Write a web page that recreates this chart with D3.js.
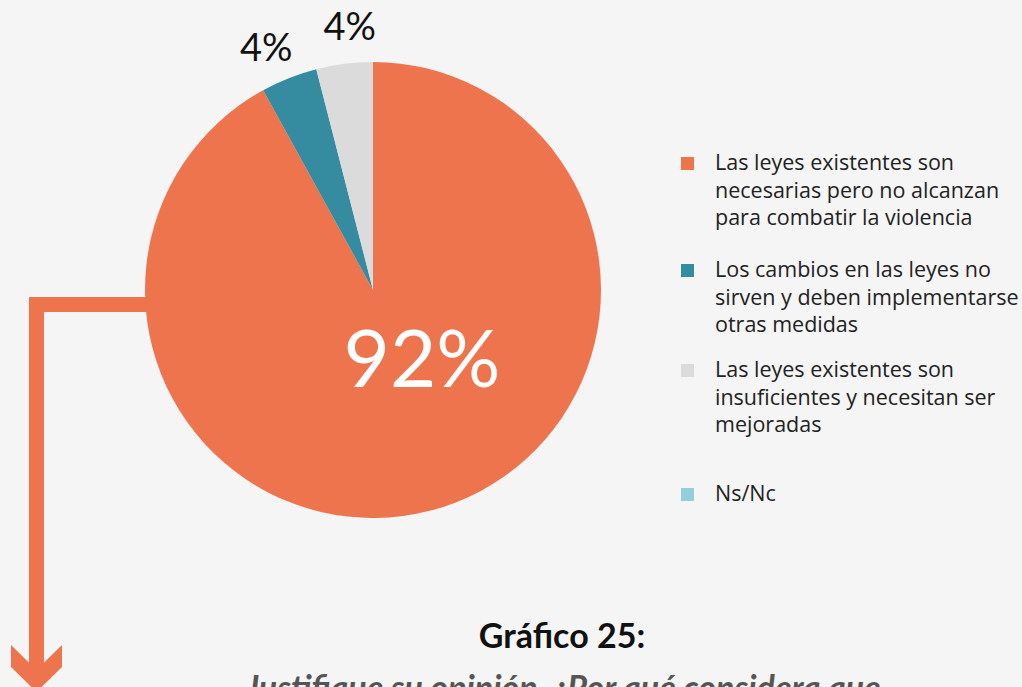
<!DOCTYPE html>
<html>
<head>
<meta charset="utf-8">
<script src="https://cdn.jsdelivr.net/npm/d3@7"></script>
<style>
  html, body { margin: 0; padding: 0; background: #f5f5f5; }
  svg { display: block; }
  text { font-family: Lato, "Open Sans", sans-serif; }
  .legend text { font-family: "Open Sans", Lato, sans-serif; }
</style>
</head>
<body>
<svg id="chart" width="1022" height="687"></svg>
<script>
// data
var categories = [
    ["Las leyes existentes son", "necesarias pero no alcanzan", "para combatir la violencia"],
    ["Los cambios en las leyes no", "sirven y deben implementarse", "otras medidas"],
    ["Las leyes existentes son", "insuficientes y necesitan ser", "mejoradas"],
    ["Ns/Nc"]
];
var values = [92, 4, 4, 0];
var labels = ["92%", "4%", "4%", ""];
var colors = ["#ee744e", "#358ba0", "#dbdbdb", "#93cedd"];
var title = "Gráfico 25:";
var subtitle = "Justifique su opinión. ¿Por qué considera que";

var svg = d3.select("#chart"),
    cx = 373, cy = 290, r = 228,
    orange = colors[0];

// arrow leaving the pie, drawn under it
var arrow = svg.append("g").attr("fill", orange);
arrow.append("rect").attr("x", 29).attr("y", 297).attr("width", 130).attr("height", 15);
arrow.append("rect").attr("x", 29).attr("y", 297).attr("width", 15).attr("height", 385);
arrow.append("path")
    .attr("d", d3.line()([[11, 645], [36.5, 670], [62, 645], [62, 667], [36.5, 692], [11, 667]]) + "Z");

// pie
var pie = d3.pie().sort(null).value(function(d) { return d; }),
    arc = d3.arc().innerRadius(0).outerRadius(r),
    arcs = pie(values);

var g = svg.append("g").attr("transform", "translate(" + cx + "," + cy + ")");

g.selectAll("path.slice")
    .data(arcs)
  .enter().append("path")
    .attr("class", "slice")
    .attr("d", arc)
    .attr("fill", function(d, i) { return colors[i]; });

// small outside labels, spread apart a little so they don't collide
var small = arcs.filter(function(d, i) { return i > 0 && values[i] > 0; }),
    mids = small.map(function(d) { return (d.startAngle + d.endAngle) / 2; }),
    meanMid = d3.mean(mids), labelR = 265;

g.selectAll("text.out")
    .data(small)
  .enter().append("text")
    .attr("class", "out")
    .attr("transform", function(d, i) {
        var a = meanMid + (mids[i] - meanMid) * 1.3;
        return "translate(" + (labelR * Math.sin(a)) + "," + (-labelR * Math.cos(a)) + ")";
    })
    .attr("text-anchor", "middle")
    .attr("dy", "0.36em")
    .attr("font-size", 38)
    .attr("fill", "#111")
    .text(function(d) { return labels[d.index]; });

// big label inside
g.append("text")
    .attr("x", 49).attr("y", 68)
    .attr("text-anchor", "middle")
    .attr("dy", "0.36em")
    .attr("font-size", 80)
    .attr("font-weight", 400)
    .attr("fill", "#fff")
    .text(labels[0]);

// legend
var tops = [157, 264, 364, 488];
var leg = svg.append("g").attr("class", "legend").selectAll("g")
    .data(categories)
  .enter().append("g")
    .attr("transform", function(d, i) { return "translate(681," + tops[i] + ")"; });

leg.append("rect")
    .attr("width", 13).attr("height", 13)
    .attr("fill", function(d, i) { return colors[i]; });

leg.append("text")
    .attr("x", 34)
    .attr("font-size", 21.5)
    .attr("fill", "#222")
    .selectAll("tspan")
    .data(function(d) { return d; })
  .enter().append("tspan")
    .attr("x", 34)
    .attr("y", function(d, i) { return 13 + i * 27.5; })
    .text(function(d) { return d; });

// title
svg.append("text")
    .attr("x", 562).attr("y", 648)
    .attr("text-anchor", "middle")
    .attr("font-size", 34)
    .attr("font-weight", 700)
    .attr("fill", "#111")
    .text(title);

svg.append("text")
    .attr("x", 563).attr("y", 700)
    .attr("text-anchor", "middle")
    .attr("font-size", 34)
    .attr("font-weight", 700)
    .attr("font-style", "italic")
    .attr("fill", "#555")
    .text(subtitle);
</script>
</body>
</html>
